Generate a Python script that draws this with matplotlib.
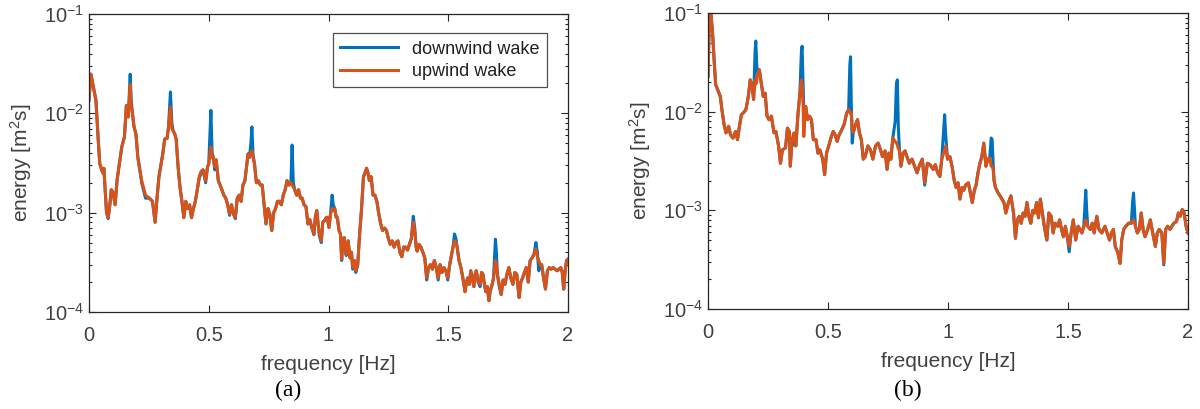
import matplotlib
matplotlib.use("Agg")
import matplotlib.pyplot as plt
import numpy as np
from matplotlib.ticker import LogLocator, NullFormatter

plt.rcParams['font.family'] = ['Liberation Sans', 'DejaVu Sans']
plt.rcParams['mathtext.fontset'] = 'custom'
plt.rcParams['mathtext.rm'] = 'Liberation Sans'
plt.rcParams['mathtext.it'] = 'Liberation Sans:italic'
plt.rcParams['mathtext.bf'] = 'Liberation Sans:bold'

# ---------- panel (a): energy in 1e-3 m^2 s ----------
freq_a = [0.000, 0.008, 0.018, 0.029, 0.037, 0.045, 0.053, 0.058, 0.062, 0.073,
          0.080, 0.087, 0.093, 0.100, 0.109, 0.117, 0.125, 0.137, 0.148, 0.156,
          0.164, 0.172, 0.176, 0.180, 0.188, 0.196, 0.204, 0.220, 0.236, 0.252,
          0.265, 0.276, 0.284, 0.292, 0.308, 0.316, 0.326, 0.332, 0.340, 0.346,
          0.351, 0.358, 0.364, 0.372, 0.380, 0.388, 0.396, 0.404, 0.412, 0.420,
          0.428, 0.436, 0.444, 0.452, 0.460, 0.468, 0.476, 0.487, 0.495, 0.500,
          0.509, 0.514, 0.519, 0.525, 0.531, 0.540, 0.547, 0.555, 0.563, 0.571,
          0.579, 0.587, 0.595, 0.603, 0.611, 0.619, 0.627, 0.635, 0.643, 0.651,
          0.658, 0.664, 0.670, 0.676, 0.680, 0.685, 0.691, 0.699, 0.707, 0.715,
          0.723, 0.731, 0.739, 0.747, 0.755, 0.763, 0.771, 0.779, 0.787, 0.795,
          0.803, 0.811, 0.819, 0.827, 0.835, 0.843, 0.848, 0.853, 0.859, 0.867,
          0.875, 0.883, 0.890, 0.898, 0.906, 0.914, 0.922, 0.930, 0.939, 0.945,
          0.951, 0.957, 0.962, 0.970, 0.976, 0.983, 0.989, 0.994, 1.002, 1.008,
          1.015, 1.020, 1.026, 1.032, 1.037, 1.044, 1.050, 1.055, 1.060, 1.066,
          1.070, 1.074, 1.082, 1.090, 1.096, 1.101, 1.108, 1.114, 1.122, 1.130,
          1.138, 1.146, 1.152, 1.159, 1.165, 1.170, 1.178, 1.186, 1.194, 1.202,
          1.210, 1.218, 1.226, 1.234, 1.242, 1.250, 1.258, 1.266, 1.274, 1.282,
          1.290, 1.298, 1.306, 1.314, 1.322, 1.330, 1.338, 1.346, 1.354, 1.360,
          1.366, 1.370, 1.378, 1.386, 1.394, 1.402, 1.410, 1.418, 1.426, 1.434,
          1.442, 1.450, 1.458, 1.466, 1.474, 1.482, 1.490, 1.498, 1.506, 1.514,
          1.520, 1.526, 1.532, 1.537, 1.545, 1.553, 1.561, 1.570, 1.576, 1.581,
          1.588, 1.594, 1.600, 1.607, 1.612, 1.617, 1.625, 1.633, 1.639, 1.645,
          1.651, 1.657, 1.663, 1.670, 1.675, 1.681, 1.689, 1.697, 1.701, 1.705,
          1.713, 1.721, 1.729, 1.737, 1.745, 1.753, 1.761, 1.770, 1.778, 1.786,
          1.791, 1.796, 1.803, 1.810, 1.818, 1.826, 1.834, 1.842, 1.850, 1.858,
          1.866, 1.872, 1.878, 1.884, 1.890, 1.898, 1.906, 1.914, 1.922, 1.930,
          1.938, 1.946, 1.954, 1.962, 1.970, 1.976, 1.982, 1.988, 1.994, 2.000]

upwind_a = [13.5, 24.8, 18.5, 13.5, 6.2, 3.1, 2.7, 2.5, 2.8, 1.05,
            0.89, 1.2, 1.7, 1.6, 1.2, 2.1, 2.9, 4.6, 5.8, 12.0,
            9.2, 19.5, 12.0, 10.7, 7.3, 6.2, 3.6, 2.1, 1.5, 1.4,
            1.3, 0.80, 1.4, 2.3, 3.9, 5.5, 5.6, 7.3, 11.6, 7.0,
            6.7, 6.2, 5.5, 2.9, 1.8, 1.3, 0.89, 1.3, 1.1, 1.2,
            0.89, 1.1, 1.3, 1.7, 2.3, 2.6, 2.7, 2.1, 2.9, 3.1,
            4.6, 3.6, 3.6, 2.9, 3.4, 2.1, 1.9, 1.7, 1.5, 1.4,
            1.2, 0.97, 1.2, 0.97, 0.90, 1.4, 1.5, 1.3, 1.9, 2.1,
            2.9, 3.9, 3.6, 3.9, 4.2, 3.6, 3.1, 2.0, 2.1, 1.9,
            1.9, 1.2, 0.77, 1.1, 0.97, 0.66, 1.0, 1.1, 1.3, 1.3,
            1.2, 1.5, 1.7, 2.1, 1.9, 2.0, 1.9, 1.8, 1.7, 1.5,
            1.7, 1.4, 1.4, 1.2, 1.15, 0.77, 0.85, 0.71, 0.61, 0.90,
            1.05, 0.75, 0.61, 0.52, 0.80, 0.83, 0.88, 0.90, 0.71, 0.95,
            1.1, 1.05, 1.1, 0.9, 0.90, 0.66, 0.61, 0.34, 0.55, 0.56,
            0.42, 0.38, 0.52, 0.35, 0.40, 0.28, 0.33, 0.26, 0.30, 0.61,
            1.1, 2.3, 2.5, 2.8, 2.5, 2.1, 2.3, 1.5, 1.5, 1.3,
            0.97, 0.77, 0.66, 0.70, 0.66, 0.55, 0.48, 0.52, 0.45, 0.50,
            0.52, 0.40, 0.36, 0.45, 0.45, 0.42, 0.48, 0.55, 0.80, 0.65,
            0.45, 0.41, 0.48, 0.45, 0.40, 0.35, 0.22, 0.28, 0.30, 0.27,
            0.33, 0.28, 0.22, 0.30, 0.25, 0.28, 0.26, 0.22, 0.30, 0.38,
            0.45, 0.52, 0.50, 0.45, 0.33, 0.28, 0.22, 0.16, 0.20, 0.22,
            0.19, 0.26, 0.22, 0.18, 0.24, 0.26, 0.20, 0.19, 0.25, 0.24,
            0.19, 0.16, 0.18, 0.13, 0.17, 0.18, 0.22, 0.33, 0.30, 0.24,
            0.19, 0.15, 0.21, 0.19, 0.24, 0.28, 0.22, 0.19, 0.25, 0.24,
            0.18, 0.14, 0.20, 0.22, 0.25, 0.28, 0.20, 0.33, 0.35, 0.38,
            0.43, 0.36, 0.33, 0.30, 0.30, 0.22, 0.17, 0.26, 0.28, 0.27,
            0.28, 0.27, 0.26, 0.27, 0.28, 0.25, 0.17, 0.26, 0.33, 0.34]

downwind_a = [13.5, 24.8, 18.5, 13.5, 6.2, 3.1, 2.7, 2.5, 2.8, 1.0,
              0.87, 1.2, 1.7, 1.6, 1.2, 2.1, 2.9, 4.6, 5.8, 12.0,
              9.2, 24.8, 14.0, 10.7, 7.3, 6.2, 3.6, 2.0, 1.4, 1.4,
              1.3, 0.80, 1.4, 2.3, 3.9, 5.5, 5.6, 7.3, 16.4, 8.0,
              6.7, 6.2, 5.5, 2.9, 1.8, 1.3, 0.89, 1.3, 1.1, 1.2,
              0.89, 1.1, 1.3, 1.7, 2.2, 2.5, 2.7, 2.0, 2.9, 3.1,
              10.7, 4.0, 3.6, 2.7, 3.4, 2.1, 1.9, 1.7, 1.5, 1.4,
              1.2, 0.94, 1.2, 0.97, 0.87, 1.4, 1.5, 1.3, 1.9, 2.1,
              2.9, 3.9, 3.6, 5.0, 7.3, 3.8, 3.1, 2.0, 2.1, 1.9,
              1.9, 1.2, 0.77, 1.1, 0.97, 0.66, 1.0, 1.1, 1.3, 1.3,
              1.2, 1.5, 1.7, 2.1, 1.9, 2.0, 4.8, 2.0, 1.7, 1.5,
              1.7, 1.4, 1.4, 1.2, 1.15, 0.77, 0.85, 0.71, 0.60, 0.90,
              1.05, 0.75, 0.58, 0.50, 0.80, 0.83, 0.88, 0.90, 0.71, 0.95,
              1.5, 1.2, 1.1, 0.9, 0.88, 0.66, 0.61, 0.33, 0.55, 0.56,
              0.42, 0.37, 0.52, 0.35, 0.40, 0.27, 0.33, 0.25, 0.30, 0.61,
              1.1, 2.3, 2.5, 2.8, 2.5, 2.2, 2.3, 1.5, 1.5, 1.3,
              0.97, 0.77, 0.66, 0.70, 0.66, 0.55, 0.48, 0.52, 0.45, 0.50,
              0.52, 0.40, 0.36, 0.45, 0.45, 0.42, 0.48, 0.55, 0.92, 0.70,
              0.45, 0.41, 0.48, 0.45, 0.40, 0.35, 0.21, 0.28, 0.30, 0.27,
              0.33, 0.28, 0.21, 0.30, 0.25, 0.28, 0.26, 0.21, 0.30, 0.38,
              0.45, 0.61, 0.55, 0.45, 0.33, 0.28, 0.22, 0.16, 0.20, 0.22,
              0.19, 0.26, 0.22, 0.18, 0.24, 0.26, 0.20, 0.18, 0.25, 0.24,
              0.19, 0.16, 0.18, 0.13, 0.16, 0.18, 0.22, 0.54, 0.40, 0.24,
              0.18, 0.15, 0.21, 0.19, 0.24, 0.28, 0.22, 0.19, 0.25, 0.24,
              0.18, 0.14, 0.20, 0.22, 0.25, 0.28, 0.20, 0.33, 0.35, 0.38,
              0.50, 0.40, 0.26, 0.30, 0.30, 0.22, 0.17, 0.26, 0.28, 0.27,
              0.28, 0.27, 0.26, 0.27, 0.28, 0.25, 0.17, 0.26, 0.33, 0.34]

# ---------- panel (b): energy in 1e-3 m^2 s ----------
freq_b = [0.000, 0.006, 0.012, 0.019, 0.027, 0.032, 0.043, 0.051, 0.059, 0.067,
          0.075, 0.086, 0.094, 0.104, 0.115, 0.123, 0.131, 0.139, 0.147, 0.158,
          0.168, 0.176, 0.184, 0.190, 0.196, 0.199, 0.203, 0.206, 0.214, 0.222,
          0.230, 0.238, 0.246, 0.254, 0.264, 0.275, 0.283, 0.294, 0.302, 0.310,
          0.323, 0.331, 0.339, 0.343, 0.350, 0.358, 0.366, 0.375, 0.383, 0.389,
          0.392, 0.396, 0.399, 0.407, 0.415, 0.423, 0.431, 0.439, 0.450, 0.458,
          0.466, 0.478, 0.486, 0.494, 0.503, 0.514, 0.522, 0.530, 0.538, 0.546,
          0.554, 0.567, 0.578, 0.586, 0.591, 0.594, 0.597, 0.601, 0.605, 0.615,
          0.623, 0.631, 0.639, 0.647, 0.655, 0.666, 0.677, 0.687, 0.698, 0.709,
          0.719, 0.727, 0.738, 0.746, 0.754, 0.762, 0.770, 0.780, 0.785, 0.789,
          0.793, 0.797, 0.804, 0.813, 0.821, 0.829, 0.839, 0.850, 0.861, 0.871,
          0.882, 0.893, 0.903, 0.914, 0.925, 0.938, 0.947, 0.957, 0.966, 0.974,
          0.982, 0.986, 0.990, 0.998, 1.008, 1.018, 1.026, 1.034, 1.042, 1.050,
          1.058, 1.066, 1.073, 1.085, 1.093, 1.101, 1.110, 1.117, 1.125, 1.133,
          1.141, 1.149, 1.158, 1.166, 1.174, 1.180, 1.184, 1.188, 1.192, 1.198,
          1.209, 1.217, 1.225, 1.233, 1.241, 1.252, 1.262, 1.273, 1.281, 1.289,
          1.297, 1.305, 1.313, 1.321, 1.329, 1.337, 1.345, 1.353, 1.361, 1.369,
          1.377, 1.385, 1.393, 1.401, 1.412, 1.420, 1.430, 1.438, 1.446, 1.457,
          1.465, 1.473, 1.481, 1.489, 1.497, 1.505, 1.513, 1.522, 1.532, 1.542,
          1.550, 1.558, 1.566, 1.571, 1.574, 1.578, 1.582, 1.593, 1.601, 1.609,
          1.620, 1.629, 1.641, 1.654, 1.665, 1.673, 1.681, 1.689, 1.697, 1.708,
          1.717, 1.724, 1.732, 1.741, 1.752, 1.764, 1.769, 1.773, 1.777, 1.781,
          1.789, 1.797, 1.805, 1.813, 1.821, 1.832, 1.843, 1.853, 1.864, 1.872,
          1.880, 1.891, 1.899, 1.907, 1.915, 1.925, 1.933, 1.941, 1.952, 1.960,
          1.968, 1.976, 1.984, 1.992, 2.000]

upwind_b = [22.8, 95, 100, 63, 29, 18.8, 16, 14.3, 10.1, 7.4,
            6.1, 7.1, 5.8, 5.4, 6.3, 5.2, 7.1, 9.3, 9.7, 10.5,
            14.3, 21, 18, 13.3, 21, 19, 20, 24, 26.6, 19.5,
            14.3, 15.4, 9.0, 8.3, 9.0, 6.1, 6.3, 4.5, 3.0, 4.1,
            4.3, 6.8, 6.3, 2.8, 5.2, 6.1, 4.5, 9.5, 15.4, 21,
            19, 12, 5.6, 11.3, 8.3, 9.0, 8.3, 5.2, 5.2, 3.8,
            4.1, 3.3, 2.3, 3.8, 4.5, 5.6, 6.3, 5.8, 5.0, 5.8,
            6.3, 7.4, 9.7, 10.5, 10.0, 9.5, 9.7, 7.0, 6.1, 7.4,
            8.3, 6.1, 5.2, 3.3, 3.5, 4.5, 4.1, 3.3, 4.5, 4.8,
            4.1, 3.5, 4.0, 2.6, 3.8, 3.3, 5.4, 5.0, 4.8, 4.6,
            4.2, 4.1, 2.8, 3.8, 4.0, 3.5, 3.0, 3.3, 2.8, 2.4,
            2.9, 3.3, 1.9, 3.0, 2.9, 2.6, 2.9, 2.4, 2.2, 3.3,
            3.8, 4.0, 4.5, 3.3, 3.5, 2.7, 2.0, 1.7, 1.9, 1.3,
            1.7, 1.6, 1.8, 1.9, 1.5, 1.2, 1.6, 1.8, 2.4, 3.0,
            3.5, 4.8, 2.8, 3.3, 3.4, 2.8, 2.8, 2.6, 2.0, 1.7,
            1.5, 1.4, 1.3, 1.2, 0.94, 1.2, 1.4, 0.94, 0.52, 0.80,
            0.87, 0.74, 0.94, 0.87, 1.2, 0.87, 0.74, 1.0, 0.94, 1.2,
            0.84, 1.3, 0.94, 0.69, 0.50, 0.94, 0.87, 0.59, 0.74, 0.69,
            0.80, 0.64, 0.54, 0.69, 0.54, 0.43, 0.59, 0.80, 0.50, 0.69,
            0.64, 0.59, 0.69, 0.72, 0.80, 0.75, 0.69, 0.64, 0.74, 0.59,
            0.87, 0.64, 0.59, 0.69, 0.57, 0.50, 0.59, 0.64, 0.43, 0.37,
            0.29, 0.50, 0.64, 0.69, 0.74, 0.74, 0.78, 0.80, 0.75, 0.69,
            0.59, 0.64, 0.94, 0.64, 0.54, 0.64, 0.80, 0.59, 0.43, 0.59,
            0.64, 0.59, 0.29, 0.64, 0.69, 0.64, 0.69, 0.74, 0.77, 0.94,
            0.87, 1.02, 0.94, 0.69, 0.59]

downwind_b = [22.8, 95, 100, 63, 29, 18.8, 16, 14.3, 10.1, 7.4,
              6.1, 7.1, 5.8, 5.4, 6.3, 5.2, 7.1, 9.3, 9.7, 10.5,
              14.3, 21, 18, 13.3, 40, 52, 30, 24, 26.6, 19.5,
              14.3, 15.4, 9.0, 8.3, 9.0, 6.1, 6.3, 4.5, 3.0, 4.1,
              4.3, 6.8, 6.3, 2.8, 5.2, 4.6, 4.5, 9.5, 15.4, 40,
              46, 20, 10.5, 11.3, 8.3, 9.0, 8.3, 5.2, 5.2, 3.8,
              4.1, 3.3, 2.3, 3.8, 4.5, 5.6, 6.3, 5.8, 5.0, 5.8,
              6.3, 7.4, 9.7, 10.5, 30, 36, 12, 4.8, 6.1, 7.4,
              8.3, 6.1, 5.2, 3.3, 3.5, 4.5, 4.1, 3.3, 4.5, 4.8,
              4.1, 3.5, 4.0, 2.6, 3.8, 3.3, 5.4, 8.0, 19, 21,
              7.0, 4.4, 2.8, 3.8, 4.0, 3.5, 3.0, 3.3, 2.8, 2.4,
              2.9, 3.3, 1.8, 3.0, 2.9, 2.6, 2.9, 2.4, 2.2, 3.3,
              6.5, 9.3, 6.0, 3.3, 3.5, 2.7, 2.0, 1.7, 1.9, 1.3,
              1.7, 1.6, 1.8, 1.9, 1.5, 1.2, 1.6, 1.8, 2.4, 3.0,
              3.5, 4.8, 2.8, 3.3, 3.4, 5.4, 5.2, 3.0, 2.0, 1.7,
              1.5, 1.4, 1.3, 1.2, 0.94, 1.2, 1.4, 0.94, 0.52, 0.80,
              0.87, 0.74, 0.94, 0.87, 1.2, 0.87, 0.74, 1.0, 0.94, 1.2,
              0.84, 1.3, 0.94, 0.69, 0.50, 0.94, 0.87, 0.59, 0.74, 0.69,
              0.80, 0.64, 0.54, 0.69, 0.54, 0.38, 0.59, 0.80, 0.50, 0.69,
              0.64, 0.59, 0.69, 1.2, 1.6, 1.0, 0.69, 0.64, 0.74, 0.59,
              0.87, 0.64, 0.59, 0.69, 0.57, 0.50, 0.59, 0.64, 0.43, 0.37,
              0.29, 0.50, 0.64, 0.69, 0.74, 0.74, 1.2, 1.5, 1.0, 0.69,
              0.59, 0.64, 0.94, 0.64, 0.54, 0.64, 0.80, 0.59, 0.43, 0.59,
              0.64, 0.59, 0.28, 0.64, 0.69, 0.64, 0.69, 0.74, 0.77, 0.94,
              0.87, 1.02, 0.94, 0.69, 0.59]

series_names = ["downwind wake", "upwind wake"]
captions = ["(a)", "(b)"]

blue = "#0072BD"
orange = "#D95319"
axcol = "#262626"
txtcol = "#404040"

fig = plt.figure(figsize=(12, 4.09), dpi=100)
ax1 = fig.add_axes([89/1200, 1-312/409, 479/1200, 298/409])
ax2 = fig.add_axes([708/1200, 1-309/409, 480/1200, 296/409])

panels = [(ax1, freq_a, downwind_a, upwind_a), (ax2, freq_b, downwind_b, upwind_b)]

for ax, f, dw, uw in panels:
    ax.plot(f, np.array(dw)*1e-3, color=blue, lw=2.2, label=series_names[0])
    ax.plot(f, np.array(uw)*1e-3, color=orange, lw=2.2, label=series_names[1])
    ax.set_yscale('log')
    ax.set_xlim(0, 2)
    ax.set_ylim(1e-4, 1e-1)
    ax.set_xticks([0, 0.5, 1, 1.5, 2])
    ax.set_xticklabels(['0', '0.5', '1', '1.5', '2'])
    ax.yaxis.set_major_locator(LogLocator(base=10, numticks=10))
    ax.yaxis.set_minor_locator(LogLocator(base=10, subs=np.arange(2, 10), numticks=10))
    ax.yaxis.set_minor_formatter(NullFormatter())
    ax.tick_params(which='both', direction='in', top=True, right=True, color=axcol,
                   labelcolor=txtcol, labelsize=14.5, width=0.8)
    ax.tick_params(which='major', length=5)
    ax.tick_params(which='minor', length=2.5)
    ax.tick_params(axis='x', pad=10)
    for s in ax.spines.values():
        s.set_color(axcol)
        s.set_linewidth(0.9)
    ax.set_xlabel('frequency [Hz]', fontsize=15, color=txtcol)
    ax.set_ylabel('energy [m$^2$s]', fontsize=15, color=txtcol)
    ax.xaxis.set_label_coords(0.5, -0.145)
    ax.yaxis.set_label_coords(-0.115, 0.5)

leg = ax1.legend(loc='upper right', fontsize=13, handlelength=3.2, frameon=True,
                 fancybox=False, edgecolor=axcol, borderpad=0.4, labelspacing=0.3,
                 bbox_to_anchor=(0.975, 0.965))
leg.get_frame().set_linewidth(0.9)
for t in leg.get_texts():
    t.set_color("#202020")

fig.text(288/1200, 1-390/409, captions[0], ha='center', va='center', fontsize=17,
         family='Liberation Serif')
fig.text(908/1200, 1-390/409, captions[1], ha='center', va='center', fontsize=17,
         family='Liberation Serif')

fig.savefig('out.png', dpi=100)
